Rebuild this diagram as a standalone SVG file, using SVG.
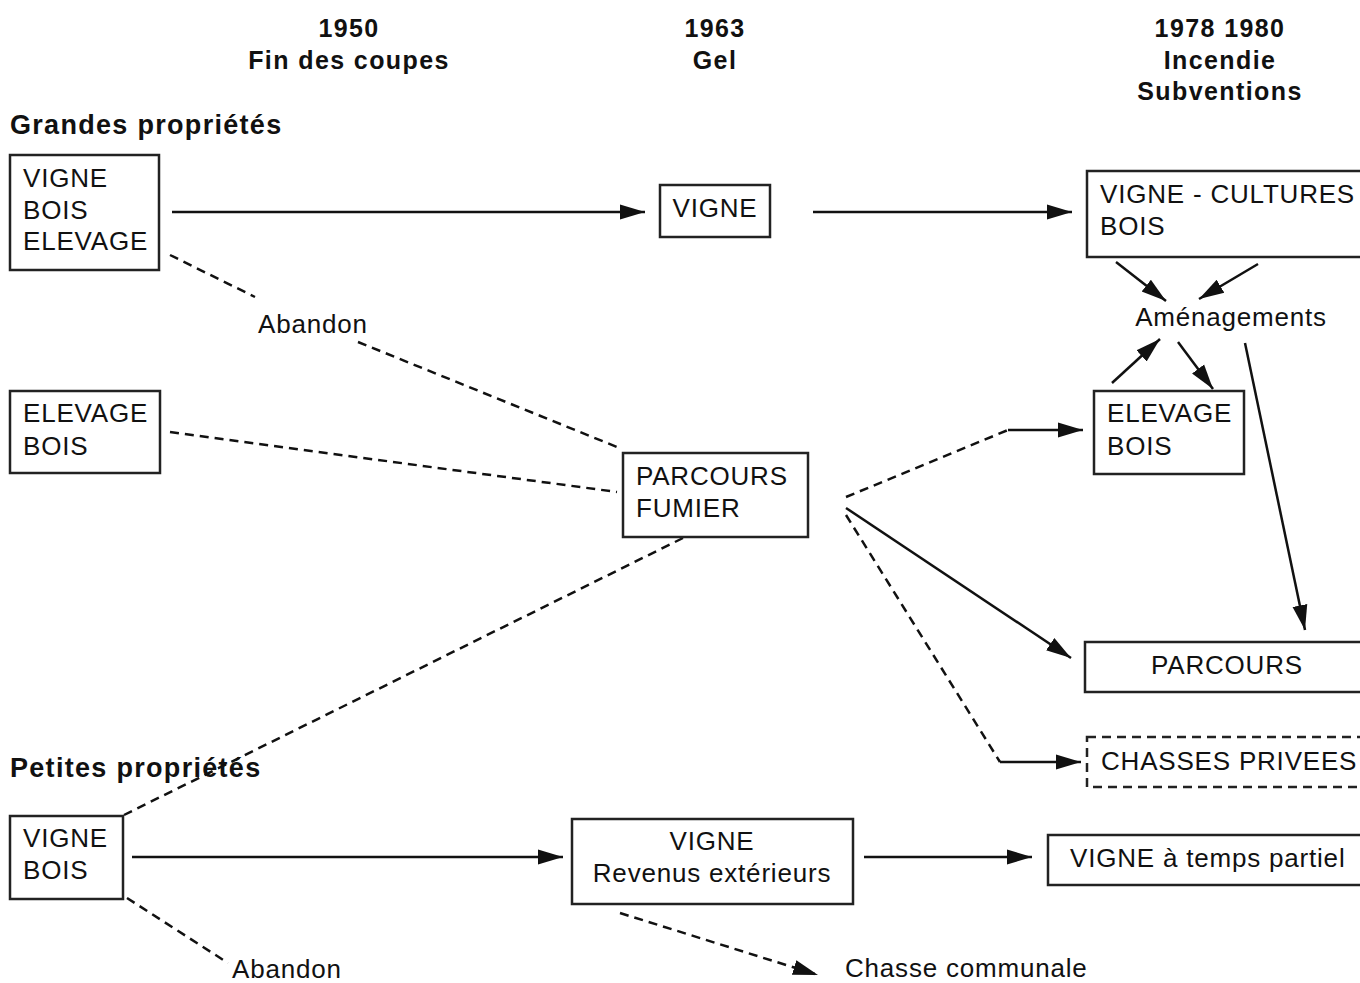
<svg xmlns="http://www.w3.org/2000/svg" width="1360" height="983" viewBox="0 0 1360 983">
<style>
.hd{font-family:"Liberation Sans",Arial,sans-serif;font-weight:bold;font-size:25px;letter-spacing:1.4px;fill:#111;text-anchor:middle}
.sec{font-family:"Liberation Sans",Arial,sans-serif;font-weight:bold;font-size:27px;letter-spacing:1.3px;fill:#111}
.t{font-family:"Liberation Sans",Arial,sans-serif;font-size:26px;letter-spacing:0.8px;fill:#111}
.box{fill:#fff;stroke:#222;stroke-width:2.5}
.dbox{fill:#fff;stroke:#222;stroke-width:2.5;stroke-dasharray:9 6}
.s{fill:none;stroke:#111;stroke-width:2.5}
.d{fill:none;stroke:#111;stroke-width:2.5;stroke-dasharray:9 6}
</style>
<defs>
<marker id="ah" markerUnits="userSpaceOnUse" markerWidth="27" markerHeight="17" refX="25" refY="8.5" orient="auto">
<path d="M0,1 L25,8.5 L0,16 Z" fill="#111"/>
</marker>
</defs>
<rect width="1360" height="983" fill="#fff"/>
<g id="headers">
<text class="hd" x="349" y="37">1950</text>
<text class="hd" x="349" y="69">Fin des coupes</text>
<text class="hd" x="715" y="37">1963</text>
<text class="hd" x="715" y="69">Gel</text>
<text class="hd" x="1220" y="37">1978 1980</text>
<text class="hd" x="1220" y="69">Incendie</text>
<text class="hd" x="1220" y="100">Subventions</text>
<text class="sec" x="10" y="134">Grandes propriétés</text>
<text class="sec" x="10" y="777">Petites propriétés</text>
</g>
<g id="connectors">
<line class="s" x1="172" y1="212" x2="645" y2="212" marker-end="url(#ah)"/>
<line class="s" x1="813" y1="212" x2="1072" y2="212" marker-end="url(#ah)"/>
<line class="d" x1="170" y1="255" x2="255" y2="297"/>
<line class="d" x1="358" y1="342" x2="617" y2="447"/>
<line class="d" x1="170" y1="432" x2="617" y2="492"/>
<line class="d" x1="683" y1="538" x2="124" y2="815"/>
<line class="d" x1="127" y1="898" x2="228" y2="963"/>
<line class="d" x1="620" y1="913" x2="818" y2="975" marker-end="url(#ah)"/>
<line class="s" x1="132" y1="857" x2="563" y2="857" marker-end="url(#ah)"/>
<line class="s" x1="864" y1="857" x2="1032" y2="857" marker-end="url(#ah)"/>
<polyline class="d" points="846,497 1008,430"/>
<line class="s" x1="1008" y1="430" x2="1083" y2="430" marker-end="url(#ah)"/>
<line class="s" x1="846" y1="508" x2="1071" y2="658" marker-end="url(#ah)"/>
<polyline class="d" points="846,515 1000,762"/>
<line class="s" x1="1000" y1="762" x2="1081" y2="762" marker-end="url(#ah)"/>
<line class="s" x1="1116" y1="262" x2="1166" y2="301" marker-end="url(#ah)"/>
<line class="s" x1="1258" y1="264" x2="1199" y2="299" marker-end="url(#ah)"/>
<line class="s" x1="1112" y1="383" x2="1160" y2="339" marker-end="url(#ah)"/>
<line class="s" x1="1178" y1="342" x2="1213" y2="389" marker-end="url(#ah)"/>
<line class="s" x1="1245" y1="343" x2="1305" y2="630" marker-end="url(#ah)"/>
</g>
<g id="n-grandes-1">
<rect class="box" x="10" y="155" width="149" height="115"/>
<text class="t" x="23" y="187">VIGNE</text>
<text class="t" x="23" y="219">BOIS</text>
<text class="t" x="23" y="250">ELEVAGE</text>
</g>
<g id="n-grandes-2">
<rect class="box" x="10" y="391" width="150" height="82"/>
<text class="t" x="23" y="422">ELEVAGE</text>
<text class="t" x="23" y="455">BOIS</text>
</g>
<g id="n-vigne-1963">
<rect class="box" x="660" y="185" width="110" height="52"/>
<text class="t" x="715" y="217" text-anchor="middle">VIGNE</text>
</g>
<g id="n-vigne-cultures">
<rect class="box" x="1087" y="171" width="290" height="86"/>
<text class="t" x="1100" y="203">VIGNE - CULTURES</text>
<text class="t" x="1100" y="235">BOIS</text>
</g>
<g id="n-amenagements">
<text class="t" x="1231" y="326" text-anchor="middle">Aménagements</text>
</g>
<g id="n-elevage-bois-r">
<rect class="box" x="1094" y="391" width="150" height="83"/>
<text class="t" x="1107" y="422">ELEVAGE</text>
<text class="t" x="1107" y="455">BOIS</text>
</g>
<g id="n-parcours-fumier">
<rect class="box" x="623" y="453" width="185" height="84"/>
<text class="t" x="636" y="485">PARCOURS</text>
<text class="t" x="636" y="517">FUMIER</text>
</g>
<g id="n-parcours">
<rect class="box" x="1085" y="642" width="290" height="50"/>
<text class="t" x="1227" y="674" text-anchor="middle">PARCOURS</text>
</g>
<g id="n-chasses">
<rect class="dbox" x="1087" y="737" width="290" height="50"/>
<text class="t" x="1101" y="770">CHASSES PRIVEES</text>
</g>
<g id="n-petites">
<rect class="box" x="10" y="816" width="113" height="83"/>
<text class="t" x="23" y="847">VIGNE</text>
<text class="t" x="23" y="879">BOIS</text>
</g>
<g id="n-vigne-revenus">
<rect class="box" x="572" y="819" width="281" height="85"/>
<text class="t" x="712" y="850" text-anchor="middle">VIGNE</text>
<text class="t" x="712" y="882" text-anchor="middle">Revenus extérieurs</text>
</g>
<g id="n-temps-partiel">
<rect class="box" x="1048" y="835" width="330" height="50"/>
<text class="t" x="1070" y="867">VIGNE à temps partiel</text>
</g>
<g id="n-abandon-1">
<text class="t" x="258" y="333" font-size="23">Abandon</text>
</g>
<g id="n-abandon-2">
<text class="t" x="232" y="978" font-size="23">Abandon</text>
</g>
<g id="n-chasse-communale">
<text class="t" x="845" y="977">Chasse communale</text>
</g>
</svg>
